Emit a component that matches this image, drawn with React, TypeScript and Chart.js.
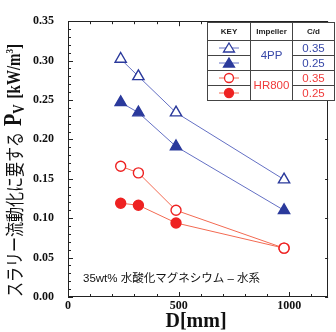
import { useEffect, useRef } from "react";
import { Chart, registerables } from "chart.js";

Chart.register(...registerables);

// ---- data ----
const diameters = [238, 318, 488, 976];
const pp4_035 = [0.302, 0.28, 0.234, 0.149];
const pp4_025 = [0.247, 0.234, 0.191, 0.11];
const hr800_035 = [0.166, 0.1575, 0.11, 0.062];
const hr800_025 = [0.119, 0.1165, 0.094, 0.062];
const impellers = ["4PP", "HR800"];
const cdValues = ["0.35", "0.25"];
const keyHeaders = ["KEY", "Impeller", "C/d"];
const xLabelValues = [0, 500, 1000];
const yLabelValues = [0, 0.05, 0.1, 0.15, 0.2, 0.25, 0.3, 0.35];
const yTitleJp = "スラリー流動化に要する";
const annotation = "35wt% 水酸化マグネシウム – 水系";
const xTitle = "D[mm]";

const BLUE_LINE = "#6470c4";
const BLUE = "#2b3a9c";
const RED_LINE = "#f36a52";
const RED = "#ee2222";
const BLUE_TEXT = "#3747a8";
const RED_TEXT = "#f03a3a";

const X_MAX = 1175;
const Y_MAX = 0.35;

const decorPlugin = {
  id: "decor",
  beforeDatasetsDraw(chart: any) {
    const { ctx, chartArea: a, scales } = chart;
    const xs = scales.x;
    const ys = scales.y;
    ctx.save();
    ctx.strokeStyle = "#222";
    ctx.lineWidth = 1;
    ctx.strokeRect(Math.round(a.left) + 0.5, Math.round(a.top) + 0.5, Math.round(a.right - a.left) - 1, Math.round(a.bottom - a.top) - 1);
    ctx.beginPath();
    for (let v = 0; v <= X_MAX + 1e-6; v += 100) {
      const px = Math.round(xs.getPixelForValue(v)) + 0.5;
      const len = v % 500 === 0 ? 5 : 3;
      ctx.moveTo(px, a.bottom);
      ctx.lineTo(px, a.bottom - len);
      ctx.moveTo(px, a.top);
      ctx.lineTo(px, a.top + len);
    }
    for (let i = 0; i <= 35; i++) {
      const v = i / 100;
      const py = Math.round(ys.getPixelForValue(v)) + 0.5;
      const len = i % 5 === 0 ? 5 : 3;
      ctx.moveTo(a.left, py);
      ctx.lineTo(a.left + len, py);
      if (i % 5 === 0) {
        ctx.moveTo(a.right, py);
        ctx.lineTo(a.right - 3, py);
      }
    }
    ctx.stroke();

    // x tick labels
    ctx.fillStyle = "#111";
    ctx.font = "bold 12px 'Liberation Serif'";
    ctx.textAlign = "center";
    ctx.textBaseline = "middle";
    xLabelValues.forEach((v) => {
      ctx.fillText(String(v), xs.getPixelForValue(v), a.bottom + 9);
    });
    ctx.restore();
  },
  afterDraw(chart: any) {
    const { ctx, chartArea: a } = chart;
    ctx.save();
    // annotation
    ctx.fillStyle = "#111";
    ctx.font = "11.5px 'Liberation Sans', 'Noto Sans CJK JP'";
    ctx.textBaseline = "middle";
    ctx.textAlign = "left";
    ctx.fillText(annotation, 83, 279);

    // x title
    ctx.font = "bold 20px 'Liberation Serif'";
    ctx.textAlign = "center";
    ctx.fillStyle = "#111";
    ctx.fillText(xTitle, (a.left + a.right) / 2 - 2, 322);

    // y title
    ctx.save();
    ctx.translate(15, 297);
    ctx.rotate(-Math.PI / 2);
    ctx.scale(1, 1.25);
    ctx.textAlign = "left";
    ctx.textBaseline = "middle";
    ctx.font = "15px 'Noto Sans CJK JP'";
    ctx.fillText(yTitleJp, 0, 0);
    let x = ctx.measureText(yTitleJp).width + 6;
    ctx.font = "bold 20px 'Liberation Serif'";
    ctx.fillText("P", x, 0);
    x += ctx.measureText("P").width;
    ctx.font = "bold 13px 'Liberation Serif'";
    ctx.fillText("V", x, 4);
    x += ctx.measureText("V").width + 6;
    ctx.font = "bold 15px 'Liberation Serif'";
    ctx.fillText("[kW/m", x, 0);
    x += ctx.measureText("[kW/m").width;
    ctx.font = "bold 9px 'Liberation Serif'";
    ctx.fillText("3", x, -4);
    x += ctx.measureText("3").width;
    ctx.font = "bold 15px 'Liberation Serif'";
    ctx.fillText("]", x, 0);
    ctx.restore();

    // key table
    const L = 207.5, C1 = 250.5, C2 = 292.5, R = 334.5;
    const T = 22.5, H = 40.5, rowH = 15;
    const B = H + rowH * 4;
    ctx.fillStyle = "#fff";
    ctx.fillRect(L, T, R - L, B - T);
    ctx.strokeStyle = "#444";
    ctx.lineWidth = 1;
    ctx.strokeRect(L, T, R - L, B - T);
    ctx.beginPath();
    ctx.moveTo(C1, T); ctx.lineTo(C1, B);
    ctx.moveTo(C2, T); ctx.lineTo(C2, B);
    ctx.moveTo(L, H); ctx.lineTo(R, H);
    ctx.moveTo(L, H + rowH * 2); ctx.lineTo(R, H + rowH * 2);
    ctx.moveTo(L, H + rowH); ctx.lineTo(C1, H + rowH);
    ctx.moveTo(C2, H + rowH); ctx.lineTo(R, H + rowH);
    ctx.moveTo(L, H + rowH * 3); ctx.lineTo(C1, H + rowH * 3);
    ctx.moveTo(C2, H + rowH * 3); ctx.lineTo(R, H + rowH * 3);
    ctx.stroke();

    ctx.textAlign = "center";
    ctx.textBaseline = "middle";
    ctx.fillStyle = "#222";
    ctx.font = "bold 8px 'Liberation Sans'";
    const cols = [(L + C1) / 2, (C1 + C2) / 2, (C2 + R) / 2];
    keyHeaders.forEach((h, i) => ctx.fillText(h, cols[i], (T + H) / 2 + 0.5));

    ctx.font = "11.5px 'Liberation Sans'";
    impellers.forEach((imp, i) => {
      ctx.fillStyle = i === 0 ? BLUE_TEXT : RED_TEXT;
      ctx.fillText(imp, cols[1], H + rowH * (2 * i + 1));
      cdValues.forEach((cd, j) => {
        ctx.fillText(cd, cols[2], H + rowH * (2 * i + j) + rowH / 2 + 0.5);
      });
    });

    // key markers
    const drawTri = (cx: number, cy: number, fill: string | null, stroke: string) => {
      ctx.beginPath();
      ctx.moveTo(cx, cy - 5);
      ctx.lineTo(cx + 5.5, cy + 4);
      ctx.lineTo(cx - 5.5, cy + 4);
      ctx.closePath();
      ctx.fillStyle = fill || "#fff";
      ctx.fill();
      ctx.strokeStyle = stroke;
      ctx.lineWidth = 1.3;
      ctx.stroke();
    };
    const drawCirc = (cx: number, cy: number, fill: string | null, stroke: string) => {
      ctx.beginPath();
      ctx.arc(cx, cy, 4.5, 0, Math.PI * 2);
      ctx.fillStyle = fill || "#fff";
      ctx.fill();
      ctx.strokeStyle = stroke;
      ctx.lineWidth = 1.3;
      ctx.stroke();
    };
    const mx = (L + C1) / 2;
    for (let r = 0; r < 4; r++) {
      const cy = H + rowH * r + rowH / 2;
      const blue = r < 2;
      ctx.beginPath();
      ctx.strokeStyle = blue ? BLUE_LINE : RED_LINE;
      ctx.lineWidth = 1;
      ctx.moveTo(mx - 10, cy);
      ctx.lineTo(mx + 10, cy);
      ctx.stroke();
      const filled = r % 2 === 1;
      if (blue) drawTri(mx, cy, filled ? BLUE : null, BLUE);
      else drawCirc(mx, cy, filled ? RED : null, RED);
    }
    ctx.restore();
  },
};

export default function App() {
  const ref = useRef<HTMLCanvasElement | null>(null);
  useEffect(() => {
    if (!ref.current) return;
    const mk = (data: number[], line: string, col: string, style: string, filled: boolean, r: number) => ({
      data: data.map((v, i) => ({ x: diameters[i], y: v })),
      borderColor: line,
      borderWidth: 1,
      pointStyle: style,
      pointRadius: r,
      pointBackgroundColor: filled ? col : "#ffffff",
      pointBorderColor: col,
      pointBorderWidth: 1.4,
      showLine: true,
      fill: false,
      tension: 0,
    });
    const chart = new Chart(ref.current, {
      type: "scatter",
      data: {
        datasets: [
          mk(pp4_035, BLUE_LINE, BLUE, "triangle", false, 6.5),
          mk(pp4_025, BLUE_LINE, BLUE, "triangle", true, 6.5),
          mk(hr800_035, RED_LINE, RED, "circle", false, 5),
          mk(hr800_025, RED_LINE, RED, "circle", true, 5),
        ] as any,
      },
      plugins: [decorPlugin],
      options: {
        animation: false,
        responsive: false,
        devicePixelRatio: 1,
        layout: { padding: { top: 17, right: 1, left: 0, bottom: 0 } },
        plugins: { legend: { display: false }, tooltip: { enabled: false } },
        scales: {
          x: {
            type: "linear",
            min: 0,
            max: X_MAX,
            grid: { display: false, drawTicks: false },
            border: { display: false },
            afterFit: (s: any) => { s.height = 35; },
            ticks: { display: false },
          },
          y: {
            type: "linear",
            min: 0,
            max: Y_MAX,
            grid: { display: false, drawTicks: false },
            border: { display: false },
            afterFit: (s: any) => { s.width = 68; },
            afterBuildTicks: (s: any) => { s.ticks = yLabelValues.map((v) => ({ value: v })); },
            ticks: {
              autoSkip: false,
              padding: 14,
              color: "#111",
              font: { family: "'Liberation Serif'", size: 12, weight: "bold" },
              callback: (v: any) => Number(v).toFixed(2),
            },
          },
        },
      } as any,
    });
    return () => chart.destroy();
  }, []);
  return (
    <div style={{ position: "absolute", left: 0, top: 0, width: 336, height: 332, background: "#fff" }}>
      <canvas ref={ref} width={336} height={332} style={{ display: "block" }} />
    </div>
  );
}
